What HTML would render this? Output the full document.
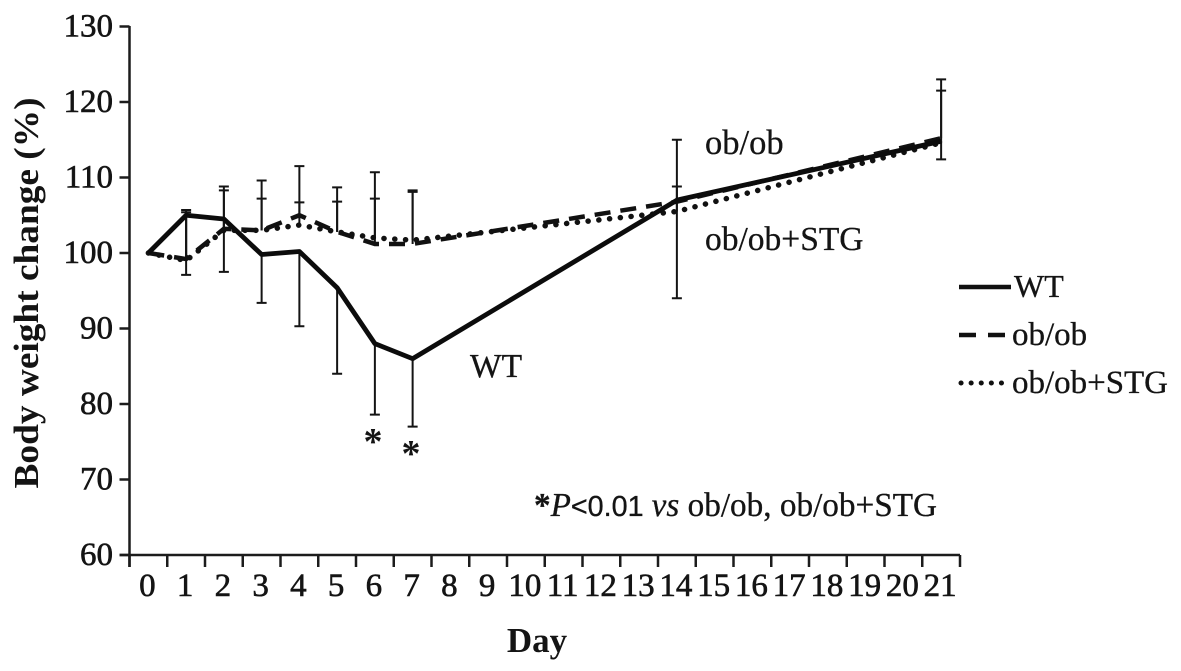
<!DOCTYPE html>
<html>
<head>
<meta charset="utf-8">
<title>Body weight change</title>
<style>
html,body{margin:0;padding:0;background:#fff;width:1181px;height:671px;overflow:hidden}
svg{display:block}
text{font-family:"Liberation Serif",serif;fill:#141414}
.tick{font-size:33px;stroke:#141414;stroke-width:.6px}
.title{font-size:35px;font-weight:bold}
.note{font-size:33.5px;stroke:#141414;stroke-width:.3px}
.ax{stroke:#1c1c1c;stroke-width:2.5;fill:none}
.err{stroke:#141414;stroke-width:2;fill:none}
</style>
</head>
<body>
<svg id="chart" xmlns="http://www.w3.org/2000/svg" width="1181" height="671" viewBox="0 0 1181 671">
<rect x="0" y="0" width="1181" height="671" fill="#fff"/>
<g id="axes"></g>
<g id="errs"></g>
<g id="lines"></g>
<text class="title" transform="translate(38,293) rotate(-90)" text-anchor="middle" textLength="391" lengthAdjust="spacingAndGlyphs">Body weight change (%)</text>
<text class="title" x="537" y="652" text-anchor="middle">Day</text>
<text class="note" x="705" y="154" style="font-size:34.5px">ob/ob</text>
<text class="note" x="705" y="250">ob/ob+STG</text>
<text class="note" x="470" y="377">WT</text>
<text x="373" y="454" font-size="38" font-weight="bold" text-anchor="middle">*</text>
<text x="411" y="466" font-size="38" font-weight="bold" text-anchor="middle">*</text>
<text class="note" x="534" y="516" textLength="403" lengthAdjust="spacingAndGlyphs"><tspan font-weight="bold">*</tspan><tspan font-style="italic">P</tspan><tspan style="font-family:'Liberation Sans',sans-serif;font-size:29px">&lt;0.01 </tspan><tspan font-style="italic">vs</tspan> ob/ob, ob/ob+STG</text>
<g>
<line x1="959" y1="287" x2="1011" y2="287" stroke="#111" stroke-width="4.5"/>
<text class="note" x="1014" y="297" style="font-size:32px">WT</text>
<line x1="959" y1="335" x2="1006" y2="335" stroke="#111" stroke-width="4.5" stroke-dasharray="17 12"/>
<text class="note" x="1012" y="345" style="font-size:33px">ob/ob</text>
<line x1="961" y1="383" x2="1008" y2="383" stroke="#111" stroke-width="5" stroke-linecap="round" stroke-dasharray="0.1 10"/>
<text class="note" x="1012" y="393" textLength="156" lengthAdjust="spacingAndGlyphs" style="font-size:33px">ob/ob+STG</text>
</g>
</svg>
<script>
var days = [0, 1, 2, 3, 4, 5, 6, 7, 14, 21];
var wtValues = [100, 105, 104.5, 99.8, 100.2, 95.4, 88, 86, 107, 114.8];
var obValues = [100, 99.2, 103.2, 103, 105, 102.8, 101.2, 101.2, 106.8, 115.2];
var stgValues = [100, 99, 103, 103, 103.7, 102.8, 102, 101.7, 105.5, 114.6];
var wtLow = [null, 97.1, 97.5, 93.4, 90.3, 84, 78.6, 77, 94, 112.4];
var obHigh = [null, 105.7, 108.8, 109.6, 111.5, 108.7, 110.7, 108.3, 115, 123];
var stgHigh = [null, 105.4, 108.3, 107.2, 106.7, 106.8, 107.2, 108.1, 108.8, 121.5];
var yTicks = [60, 70, 80, 90, 100, 110, 120, 130];
var xTicks = ['0','1','2','3','4','5','6','7','8','9','10','11','12','13','14','15','16','17','18','19','20','21'];

var NS = 'http://www.w3.org/2000/svg';
var X0 = 129.5, XSTEP = 37.75, Y0 = 555, YUNIT = 7.55;
function xScale(d) { return X0 + (d + 0.5) * XSTEP; }
function yScale(v) { return Y0 - (v - 60) * YUNIT; }
function make(parent, tag, attrs, txt) {
  var e = document.createElementNS(NS, tag);
  for (var k in attrs) e.setAttribute(k, attrs[k]);
  if (txt !== undefined) e.textContent = txt;
  parent.appendChild(e);
  return e;
}
var axes = document.getElementById('axes');
var errs = document.getElementById('errs');
var lines = document.getElementById('lines');
var el;

el = make(axes, 'line', {x1: X0, y1: 26, x2: X0, y2: Y0 + 12, 'class': 'ax'});


el = make(axes, 'line', {x1: X0 - 10, y1: Y0, x2: X0 + 22 * XSTEP, y2: Y0, 'class': 'ax'});



yTicks.forEach(function (v) {
  var t = make(axes, 'line', {x1: X0 - 10, y1: yScale(v), x2: X0, y2: yScale(v), 'class': 'ax'});
  
  
  var l = make(axes, 'text', {x: 113, y: yScale(v) + 10, 'class': 'tick', 'text-anchor': 'end'}, String(v));
  
  
});
for (var i = 0; i <= xTicks.length; i++) {
  var t = make(axes, 'line', {x1: X0 + i * XSTEP, y1: Y0, x2: X0 + i * XSTEP, y2: Y0 + 12, 'class': 'ax'});
  
  
}
xTicks.forEach(function (s, i) {
  var l = make(axes, 'text', {x: xScale(i) - 1, y: 596, 'class': 'tick', 'text-anchor': 'middle'}, s);
  
  
});

function drawErr(from, to) {
  days.forEach(function (d, i) {
    if (to[i] === null) return;
    var x = xScale(d);
    var b = make(errs, 'path', {
      d: 'M' + x + ' ' + yScale(from[i]) + 'V' + yScale(to[i]) + 'M' + (x - 5) + ' ' + yScale(to[i]) + 'H' + (x + 5),
      'class': 'err'
    });
    
    
  });
}
drawErr(wtValues, wtLow);
drawErr(obValues, obHigh);
drawErr(stgValues, stgHigh);

function pts(vals) {
  return days.map(function (d, i) { return xScale(d) + ',' + yScale(vals[i]); }).join(' ');
}
el = make(lines, 'polyline', {points: pts(stgValues), fill: 'none', stroke: '#111', 'stroke-width': 5.5, 'stroke-linecap': 'round', 'stroke-dasharray': '0.1 10.7'});


el = make(lines, 'polyline', {points: pts(obValues), fill: 'none', stroke: '#111', 'stroke-width': 4.5, 'stroke-dasharray': '16 10'});


el = make(lines, 'polyline', {points: pts(wtValues), fill: 'none', stroke: '#0c0c0c', 'stroke-width': 4.8, 'stroke-linejoin': 'round'});


</script>
</body>
</html>
